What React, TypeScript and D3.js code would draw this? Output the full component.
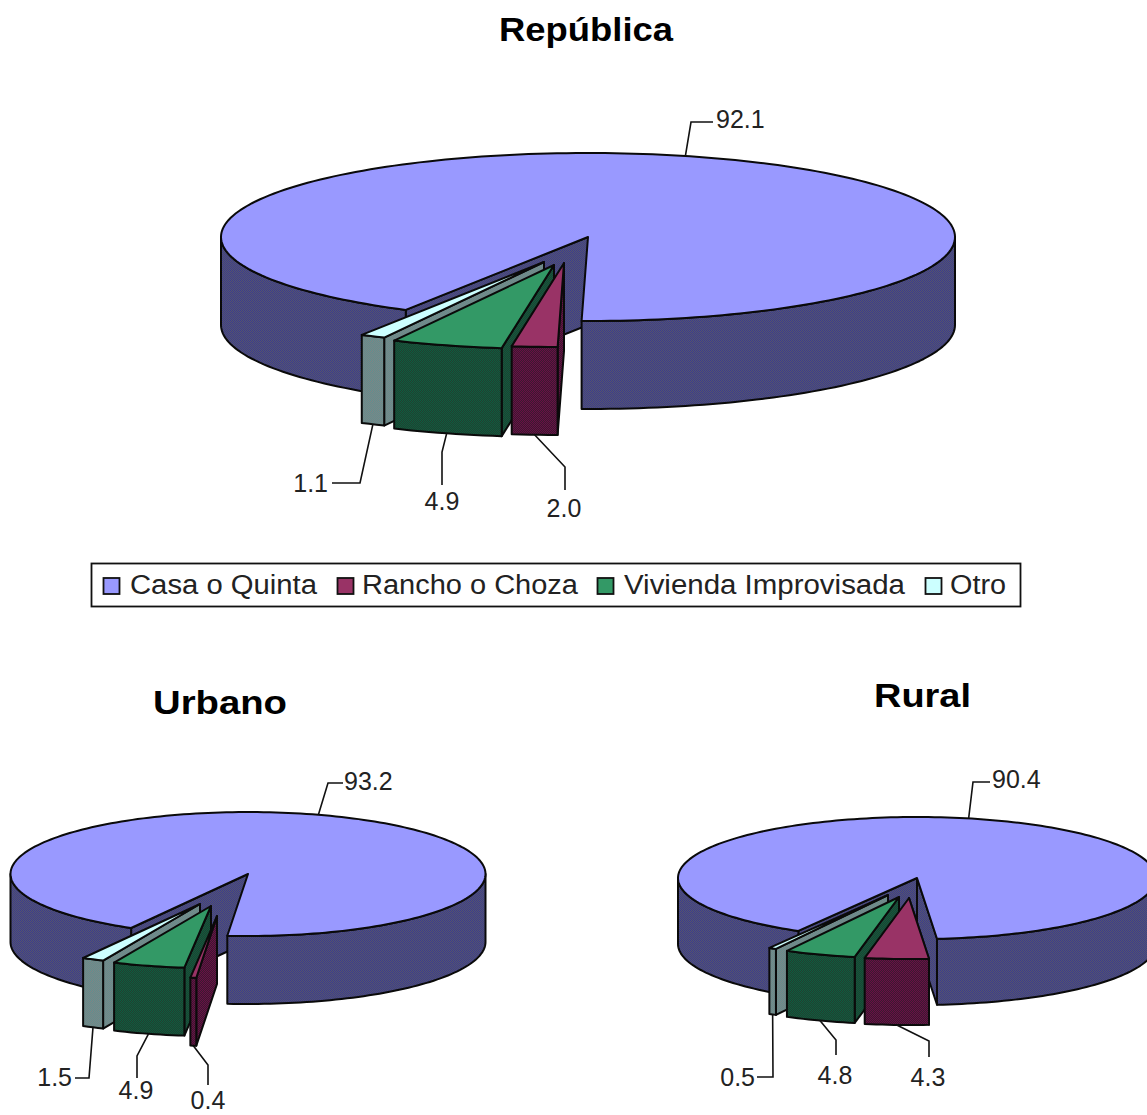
import React from "react";
import * as d3 from "d3";

const categories = ["Casa o Quinta", "Rancho o Choza", "Vivienda Improvisada", "Otro"];
const republicaValues = [92.1, 2.0, 4.9, 1.1];
const urbanoValues = [93.2, 0.4, 4.9, 1.5];
const ruralValues = [90.4, 4.3, 4.8, 0.5];
const republicaLabels = ["92.1", "2.0", "4.9", "1.1"];
const urbanoLabels = ["93.2", "0.4", "4.9", "1.5"];
const ruralLabels = ["90.4", "4.3", "4.8", "0.5"];

const topColors = ["#9999FF", "#993366", "#339966", "#CCFFFF"];
const sideA = ["#3c3c8e", "#6a0f45", "#0e5c40", "#5f9090"];
const sideB = ["#56566c", "#3a1a30", "#21402f", "#7f8484"];

type Cfg = {
  title: string; titleX: number; titleY: number; titleLen: number;
  values: number[]; labels: string[];
  cx: number; cy: number; rx: number; ry: number; depth: number; casaEnd: number;
  offsets: [number, number][];
  leaders: [number, number, number, number][];
  labelPos: [number, number, string][];
  fontSize: number;
};

const charts: Cfg[] = [
  {
    title: "República", titleX: 499, titleY: 41, titleLen: 174,
    values: republicaValues, labels: republicaLabels,
    cx: 588, cy: 237, rx: 367, ry: 84, depth: 88, casaEnd: 181,
    offsets: [[0, 0], [-24, 26], [-34, 28], [-44, 25]],
    leaders: [
      [691, 122, 713, 122], [565, 467, 565, 490], [442, 452, 442, 485], [360, 483, 332, 483],
    ],
    labelPos: [[716, 128, "start"], [564, 517, "middle"], [442, 510, "middle"], [328, 492, "end"]],
    fontSize: 25,
  },
  {
    title: "Urbano", titleX: 153, titleY: 714, titleLen: 134,
    values: urbanoValues, labels: urbanoLabels,
    cx: 248, cy: 874, rx: 237.5, ry: 62, depth: 68, casaEnd: 185,
    offsets: [[0, 0], [-31, 42], [-37, 32], [-48, 30]],
    leaders: [
      [328, 783, 343, 783], [208, 1065, 208, 1085], [137, 1056, 137, 1078], [89, 1078, 75, 1078],
    ],
    labelPos: [[344, 790, "start"], [208, 1109, "middle"], [136, 1099, "middle"], [72, 1086, "end"]],
    fontSize: 25,
  },
  {
    title: "Rural", titleX: 874, titleY: 707, titleLen: 97,
    values: ruralValues, labels: ruralLabels,
    cx: 917, cy: 878, rx: 239, ry: 61, depth: 66, casaEnd: 175.2,
    offsets: [[0, 0], [-8, 20], [-18, 19], [-29, 17]],
    leaders: [
      [973, 782, 990, 782], [929, 1041, 929, 1057], [836, 1040, 836, 1055], [773, 1077, 757, 1077],
    ],
    labelPos: [[992, 788, "start"], [928, 1086, "middle"], [835, 1084, "middle"], [755, 1086, "end"]],
    fontSize: 25,
  },
];

const legendBox = { x: 91.5, y: 563.5, w: 929, h: 43 };
const legendItems: [number, number, number][] = [
  [103, 130, 187], [337, 362, 216], [597, 624, 281], [925, 950, 56],
];

const line = d3.line<[number, number]>();
const rad = (d: number) => (d * Math.PI) / 180;

function ChartPie({ c }: { c: Cfg }) {
  const total = d3.sum(c.values);
  const casaSweep = (c.values[0] / total) * 360;
  const startDeg = c.casaEnd - casaSweep + 360;
  const pie = d3.pie<number>().sort(null).startAngle(rad(startDeg)).endAngle(rad(startDeg + 360));
  const arcs = pie(c.values);
  const sx = d3.scaleLinear().domain([-1, 1]).range([c.cx - c.rx, c.cx + c.rx]);
  const sy = d3.scaleLinear().domain([-1, 1]).range([c.cy - c.ry, c.cy + c.ry]);
  const pt = (a: number, o: [number, number], dz = 0): [number, number] => [
    sx(Math.sin(a)) + o[0],
    sy(-Math.cos(a)) + o[1] + dz,
  ];
  const sample = (a0: number, a1: number, o: [number, number], dz = 0) => {
    const n = Math.max(2, Math.ceil(Math.abs(a1 - a0) / rad(1.5)));
    return d3.range(n + 1).map((i) => pt(a0 + ((a1 - a0) * i) / n, o, dz));
  };
  const frontRanges = (a0: number, a1: number) => {
    const out: [number, number][] = [];
    for (const [lo, hi] of [[90, 270], [450, 630]]) {
      const s = Math.max(a0, rad(lo));
      const e = Math.min(a1, rad(hi));
      if (e > s) out.push([s, e]);
    }
    return out;
  };
  const stroke = { stroke: "#0a0a0a", strokeWidth: 2, strokeLinejoin: "round" as const };
  const order = [0, 3, 2, 1];
  return (
    <g>
      {order.map((i) => {
        const a = arcs[i];
        const o = c.offsets[i];
        const apex: [number, number] = [sx(0) + o[0], sy(0) + o[1]];
        const apexB: [number, number] = [apex[0], apex[1] + c.depth];
        const fill = `url(#side${i})`;
        const wall = (ang: number) =>
          line([apex, pt(ang, o), pt(ang, o, c.depth), apexB])! + "Z";
        const showWalls: number[] =
          i === 0
            ? [a.startAngle, ...(Math.sin(a.endAngle) > 0 ? [a.endAngle] : [])]
            : [a.startAngle];
        const top = line([apex, ...sample(a.startAngle, a.endAngle, o)])! + "Z";
        return (
          <g key={i}>
            {showWalls.map((w, k) => (
              <path key={k} d={wall(w)} fill={fill} {...stroke} />
            ))}
            {frontRanges(a.startAngle, a.endAngle).map(([s, e], k) => (
              <path
                key={k}
                d={line([...sample(s, e, o), ...sample(e, s, o, c.depth)])! + "Z"}
                fill={fill}
                {...stroke}
              />
            ))}
            <path d={top} fill={topColors[i]} {...stroke} />
          </g>
        );
      })}
      {arcs.map((a, i) => {
        const mid = (a.startAngle + a.endAngle) / 2;
        const o = c.offsets[i];
        const anchor = i === 0 ? pt(mid, o) : pt(mid, o, c.depth);
        const [ex, ey, fx, fy] = c.leaders[i];
        const [lx, ly, anc] = c.labelPos[i];
        return (
          <g key={"l" + i}>
            <path d={line([anchor, [ex, ey], [fx, fy]])!} fill="none" stroke="#111" strokeWidth={1.6} />
            <text x={lx} y={ly} textAnchor={anc as any} fontSize={c.fontSize} fill="#222"
              fontFamily="'Liberation Sans', Arial, sans-serif">{c.labels[i]}</text>
          </g>
        );
      })}
      <text x={c.titleX} y={c.titleY} fontSize={33} fontWeight="bold" fill="#000"
        textLength={c.titleLen} lengthAdjust="spacingAndGlyphs"
        fontFamily="'Liberation Sans', Arial, sans-serif">{c.title}</text>
    </g>
  );
}

export default function App() {
  return (
    <svg width={1147} height={1115} viewBox="0 0 1147 1115"
      style={{ position: "absolute", left: 0, top: 0, display: "block", background: "#fff" }}>
      <defs>
        {categories.map((_, i) => (
          <pattern key={i} id={`side${i}`} width={2} height={2} patternUnits="userSpaceOnUse">
            <rect width={2} height={2} fill={sideB[i]} />
            <rect width={1} height={1} fill={sideA[i]} />
            <rect x={1} y={1} width={1} height={1} fill={sideA[i]} />
          </pattern>
        ))}
      </defs>
      {charts.map((c) => (
        <ChartPie key={c.title} c={c} />
      ))}
      <rect x={legendBox.x} y={legendBox.y} width={legendBox.w} height={legendBox.h} fill="#fff" stroke="#111" strokeWidth={1.8} />
      {categories.map((name, i) => {
        const [sw, tx, tl] = legendItems[i];
        return (
          <g key={name}>
            <rect x={sw + 0.5} y={578} width={16} height={16} fill={topColors[i]} stroke="#111" strokeWidth={1.8} />
            <text x={tx} y={594} fontSize={27} fill="#222" textLength={tl} lengthAdjust="spacingAndGlyphs"
              fontFamily="'Liberation Sans', Arial, sans-serif">{name}</text>
          </g>
        );
      })}
    </svg>
  );
}
